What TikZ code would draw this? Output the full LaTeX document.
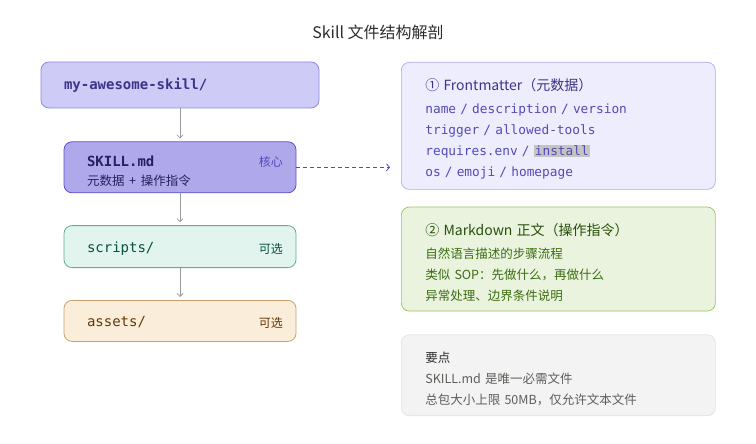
\documentclass[tikz,border=0pt]{standalone}
\usepackage{fontspec}
\setmainfont{Noto Sans CJK SC}
\setmonofont{DejaVu Sans Mono}
\usetikzlibrary{arrows.meta,positioning}
\definecolor{cRootFill}{HTML}{CECBF6}
\definecolor{cRootLine}{HTML}{8F87E0}
\definecolor{cRootText}{HTML}{3C3489}
\definecolor{cCoreFill}{HTML}{AFA9EC}
\definecolor{cCoreLine}{HTML}{5B50C8}
\definecolor{cCoreText}{HTML}{26215C}
\definecolor{cCoreTag}{HTML}{534AB7}
\definecolor{cScrFill}{HTML}{E1F5EE}
\definecolor{cScrLine}{HTML}{5FAE92}
\definecolor{cScrText}{HTML}{085041}
\definecolor{cAstFill}{HTML}{FAEEDA}
\definecolor{cAstLine}{HTML}{C9A06C}
\definecolor{cAstText}{HTML}{633806}
\definecolor{cFmFill}{HTML}{EEEDFE}
\definecolor{cFmLine}{HTML}{AFA9EC}
\definecolor{cFmText}{HTML}{534AB7}
\definecolor{cMdFill}{HTML}{EAF3DE}
\definecolor{cMdLine}{HTML}{97C459}
\definecolor{cMdTitle}{HTML}{27500A}
\definecolor{cMdText}{HTML}{3B6D11}
\definecolor{cNoteFill}{HTML}{F3F3F3}
\definecolor{cNoteLine}{HTML}{E2E2E2}
\definecolor{cNoteText}{HTML}{5F5E5A}
\definecolor{cInk}{HTML}{2C2C2A}
\definecolor{cGrey}{HTML}{9A9A9A}
\definecolor{cHilite}{HTML}{C4C4C4}
\tikzset{
  dirbox/.style={rounded corners=8pt, draw=#1Line, line width=0.8pt, fill=#1Fill,
                 text=#1Text, align=left, inner xsep=23pt, inner ysep=0pt, font=\ttfamily\fontsize{14}{19}\selectfont},
  tag/.style={anchor=east, font=\fontsize{12}{14}\selectfont},
  panel/.style={rounded corners=8pt, draw=#1Line, line width=0.7pt, fill=#1Fill,
                align=left, minimum width=314pt, text width=266pt, inner xsep=24pt,
                font=\fontsize{12.5}{21}\selectfont},
  node distance=33pt,
  flow/.style={-{Straight Barb[length=3pt,width=6pt]}, line width=0.8pt, draw=cGrey, shorten >=3pt},
  link/.style={-{Straight Barb[length=3pt,width=7pt]}, line width=0.8pt, draw=cCoreTag, dashed,
               dash pattern=on 4pt off 3pt, shorten >=11pt},
}
\begin{document}
\begin{tikzpicture}[x=1pt,y=-1pt]
  \useasboundingbox (0,0) rectangle (756,444);
  \node[font=\fontsize{16}{18}\selectfont, text=cInk] (title) at (378,32) {Skill 文件结构解剖};
  \node[dirbox=cRoot, text=cRootText, minimum width=278pt, text width=232pt, minimum height=46pt,
        font=\ttfamily\bfseries\fontsize{14}{19}\selectfont] (root) at (180,85) {my-awesome-skill/};
  \node[dirbox=cCore, minimum width=232pt, text width=186pt, minimum height=51pt, below=of root] (skill)
    {{\rule{0pt}{19pt}\bfseries SKILL.md}\\{\rmfamily\fontsize{12.5}{15}\selectfont 元数据 + 操作指令}};
  \node[dirbox=cScr, minimum width=232pt, text width=186pt, minimum height=42pt, below=32pt of skill] (scripts)
    {\rule{0pt}{14pt}scripts/};
  \node[dirbox=cAst, minimum width=232pt, text width=186pt, minimum height=41pt, below=32pt of scripts] (assets)
    {\rule{0pt}{13pt}assets/};
  \node[tag, text=cCoreTag] (skilltag) at ([xshift=-10pt,yshift=5pt]skill.east) {核心};
  \node[tag, text=cScrText] (scriptstag) at ([xshift=-10pt,yshift=-2pt]scripts.east) {可选};
  \node[tag, text=cAstText] (assetstag) at ([xshift=-10pt,yshift=-2pt]assets.east) {可选};
  \draw[flow] (root) -- (skill);
  \draw[flow] (skill) -- (scripts);
  \draw[flow] (scripts) -- (assets);
  \node[panel=cFm, minimum height=127pt, text=cFmText, anchor=north west] (front) at (401,62)
    {{\rule{0pt}{19pt}\fontsize{14}{21}\selectfont\color{cRootText}① Frontmatter（元数据）}\\[2pt]
     {\ttfamily\fontsize{12.8}{21}\selectfont name / description / version}\\
     {\ttfamily\fontsize{12.8}{21}\selectfont trigger / allowed-tools}\\
     {\ttfamily\fontsize{12.8}{21}\selectfont requires.env / {\fboxsep=1pt\colorbox{cHilite}{install}}}\\
     {\ttfamily\fontsize{12.8}{21}\selectfont os / emoji / homepage}};
  \node[panel=cMd, minimum height=104pt, text=cMdText, below=17pt of front] (body)
    {{\rule{0pt}{19pt}\fontsize{14}{21}\selectfont\color{cMdTitle}② Markdown 正文（操作指令）}\\[2pt]
     自然语言描述的步骤流程\\
     类似 SOP：先做什么，再做什么\\
     异常处理、边界条件说明};
  \node[panel=cNote, minimum height=81pt, text=cNoteText, below=23pt of body] (note)
    {{\rule{0pt}{17pt}\color{cInk}要点}\\
     SKILL.md 是唯一必需文件\\
     总包大小上限 50MB，仅允许文本文件};
  \draw[link] (skill.east) -- (skill.east -| front.west);
\end{tikzpicture}
\end{document}
